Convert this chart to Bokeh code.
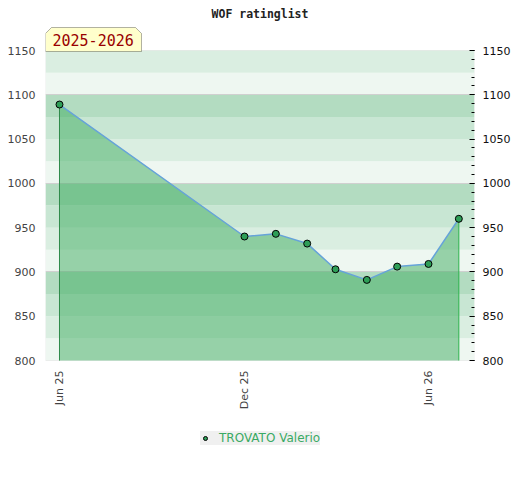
import math
from datetime import datetime
from bokeh.plotting import figure
from bokeh.models import (Range1d, LinearAxis, FixedTicker, DatetimeTickFormatter,
                          BoxAnnotation, Legend, LegendItem, Label, PolyAnnotation)
from bokeh.embed import file_html
from bokeh.resources import INLINE

# ---- data ----
dates = ["2025-06-01", "2025-12-01", "2026-01-01", "2026-02-01", "2026-03-01",
         "2026-04-01", "2026-05-01", "2026-06-01", "2026-07-01"]
ratings = [1089, 940, 943, 932, 903, 891, 906, 909, 960]
player = "TROVATO Valerio"
season = "2025-2026"
title_text = "WOF ratinglist"
y_ticks = [800, 850, 900, 950, 1000, 1050, 1100, 1150]
x_tick_dates = ["2025-06-01", "2025-12-01", "2026-06-01"]
band_lo = list(range(800, 1150, 25))
y_min, y_max = 800, 1150

xs = [datetime.strptime(d, "%Y-%m-%d") for d in dates]
def ms(d):
    return (datetime.strptime(d, "%Y-%m-%d") - datetime(1970, 1, 1)).total_seconds() * 1000.0

# frame geometry (pixels): data block is 310 px tall; frame extends 25 px above, 95 px below
FW = 429
PX_DATA, PX_ABOVE, PX_BELOW = 310, 25, 95
FH = PX_DATA + PX_ABOVE + PX_BELOW
k = (y_max - y_min) / PX_DATA

p = figure(x_axis_type="datetime", output_backend="svg", toolbar_location=None,
           frame_width=FW, frame_height=FH,
           min_border_left=45, min_border_right=36, min_border_top=25, min_border_bottom=5,
           x_range=Range1d(datetime(2025, 5, 18, 4), datetime(2026, 7, 16, 12)),
           y_range=Range1d(y_min - PX_BELOW * k, y_max + PX_ABOVE * k))
p.background_fill_color = "white"
p.border_fill_color = "white"
p.outline_line_color = None

p.title.text = title_text
p.title.align = "center"
p.title.text_font = "DejaVu Sans Mono"
p.title.text_font_size = "11.5px"
p.title.text_font_style = "bold"
p.title.text_color = "#222222"
p.title.standoff = 9

# bands
band_cols = ["#eef7f1", "#daeee1", "#c8e6d3", "#b3dcc1"]
for i, lo in enumerate(band_lo):
    p.add_layout(BoxAnnotation(bottom=lo, top=lo + 25, fill_color=band_cols[i % 4],
                               fill_alpha=1.0, line_color=None, level="image"))
p.add_layout(BoxAnnotation(bottom=y_min, top=y_max, fill_color=None, line_color="#cccccc",
                           line_width=1, level="underlay"))

# grid
p.xgrid.visible = False
p.ygrid.ticker = FixedTicker(ticks=[900, 1000, 1100])
p.ygrid.grid_line_color = "#d0d0d0"

# left axis
p.yaxis.ticker = FixedTicker(ticks=y_ticks)
p.yaxis.major_tick_out = 0
p.yaxis.major_tick_in = 0
p.yaxis.minor_tick_out = 0
p.yaxis.minor_tick_in = 0
p.yaxis.axis_line_color = None
p.yaxis.major_label_text_color = "#444444"
p.yaxis.major_label_text_font = "DejaVu Sans"
p.yaxis.major_label_text_font_size = "11px"
p.yaxis.major_label_standoff = 10

# right axis
ra = LinearAxis(ticker=FixedTicker(ticks=y_ticks, minor_ticks=list(range(800, 1151, 10))))
ra.major_tick_out = 0
ra.major_tick_in = 5
ra.minor_tick_out = 0
ra.minor_tick_in = 3
ra.major_tick_line_color = "black"
ra.minor_tick_line_color = "black"
ra.axis_line_color = None
ra.major_label_text_color = "#111111"
ra.major_label_text_font = "DejaVu Sans"
ra.major_label_text_font_size = "11px"
ra.major_label_standoff = 8
p.add_layout(ra, "right")

# x axis (labels pulled up to sit just under the data block)
p.xaxis.ticker = FixedTicker(ticks=[ms(d) for d in x_tick_dates])
fmt = "%b %y"
p.xaxis.formatter = DatetimeTickFormatter(days=fmt, months=fmt, years=fmt, hours=fmt,
                                          minutes=fmt, seconds=fmt, milliseconds=fmt)
p.xaxis.major_label_orientation = math.pi / 2
p.xaxis.major_tick_out = 0
p.xaxis.major_tick_in = 0
p.xaxis.minor_tick_out = 0
p.xaxis.minor_tick_in = 0
p.xaxis.axis_line_color = None
p.xaxis.major_label_text_color = "#444444"
p.xaxis.major_label_text_font = "DejaVu Sans"
p.xaxis.major_label_text_font_size = "11px"
p.xaxis.major_label_standoff = -(PX_BELOW - 10)

# area, line, end lines, markers
p.varea(x=xs, y1=[y_min] * len(xs), y2=ratings, fill_color="#3dab60", fill_alpha=0.5)
p.segment(x0=[xs[0]], y0=[y_min], x1=[xs[0]], y1=[ratings[0]], line_color="#2f8a4a", line_width=1)
p.segment(x0=[xs[-1]], y0=[y_min], x1=[xs[-1]], y1=[ratings[-1]], line_color="#2db34d", line_width=1)
p.line(xs, ratings, line_color="#66a3d9", line_width=1.5)
pts = p.scatter(xs, ratings, size=7, fill_color="#2e9e57", line_color="black", line_width=1)

legend = Legend(items=[LegendItem(label=player, renderers=[pts])], location=(155, 10),
                orientation="horizontal", background_fill_color="#f0f0f0",
                background_fill_alpha=1.0, border_line_color=None,
                label_text_color="#3aaa64", label_text_font="DejaVu Sans",
                label_text_font_size="12px", padding=6, margin=0, spacing=0,
                glyph_width=10, glyph_height=12, label_height=12, label_width=100,
                label_standoff=9)
p.add_layout(legend, "center")

# season badge (screen units relative to frame bottom-left)
btm = FH - PX_ABOVE - 1
top = FH - 2
p.add_layout(PolyAnnotation(xs=[0, 0, 6, 90, 96, 96],
                            ys=[btm, top - 6, top, top, top - 6, btm],
                            xs_units="screen", ys_units="screen",
                            fill_color="#ffffcc", fill_alpha=1.0,
                            line_color="black", line_width=1))
p.add_layout(Label(x=7, y=btm + 12, x_units="screen", y_units="screen", text=season,
                   text_font="DejaVu Sans Mono", text_font_size="15px",
                   text_color="#990000", text_baseline="alphabetic"))

open("out.html", "w").write(file_html(p, INLINE))
